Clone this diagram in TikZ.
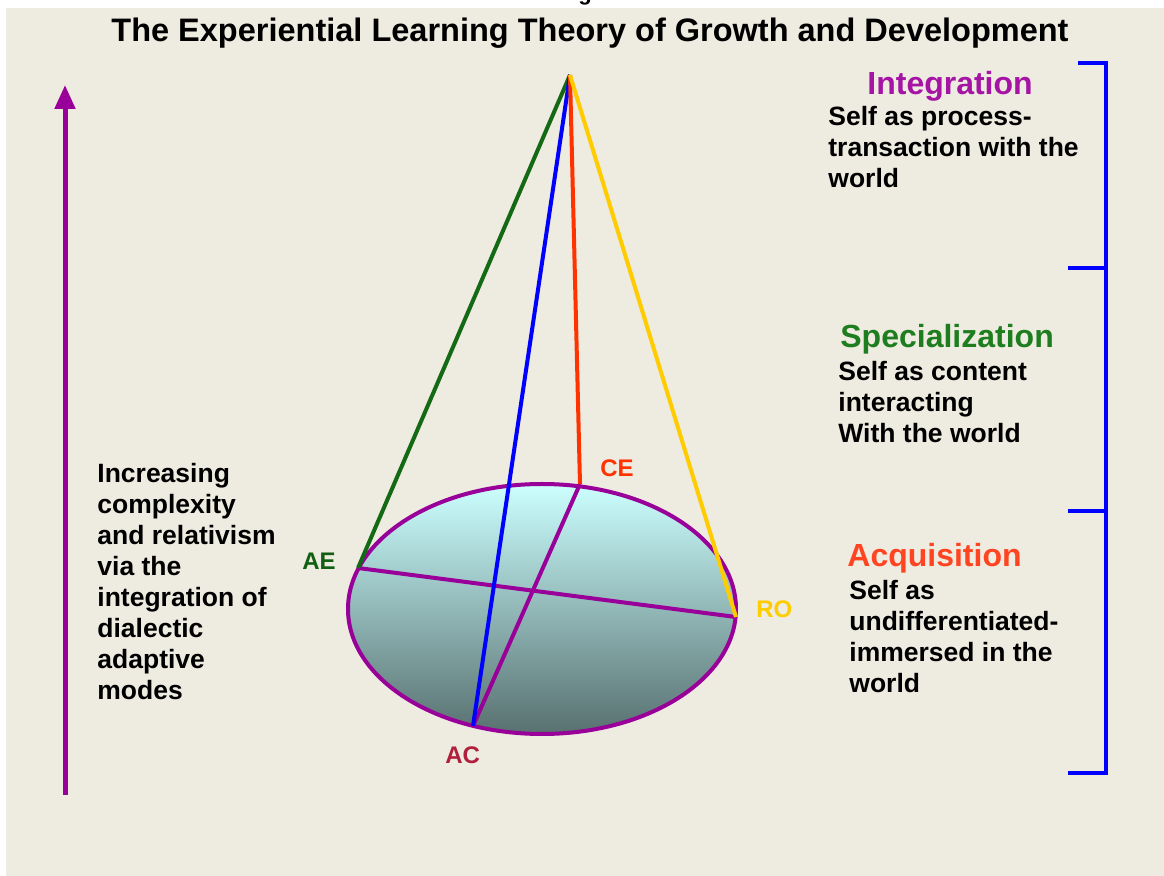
\documentclass[tikz,border=0pt]{standalone}
\usepackage{fontspec}
\setmainfont{Liberation Sans}
\usetikzlibrary{positioning,arrows.meta,shapes.geometric}

\definecolor{paper}{RGB}{238,235,224}
\definecolor{purp}{RGB}{153,0,153}
\definecolor{dgreen}{RGB}{20,105,20}
\definecolor{dred}{RGB}{255,51,0}
\definecolor{gold}{RGB}{255,204,0}
\definecolor{hpurp}{RGB}{165,20,165}
\definecolor{hgreen}{RGB}{30,125,30}
\definecolor{horange}{RGB}{255,68,34}
\definecolor{crimson}{RGB}{176,32,60}

\begin{document}
\begin{tikzpicture}[x=0.5pt, y=-0.5pt,
		line/.style={line width=2pt},
		disk/.style={ellipse, draw=purp, line width=2pt, inner sep=0pt,
			minimum width=194pt, minimum height=125pt,
			top color={rgb,255:red,204;green,255;blue,255},
			bottom color={rgb,255:red,88;green,112;blue,112}},
		txt/.style={anchor=base west, inner sep=0pt, align=left,
			font=\fontsize{13.25}{15.5}\selectfont\bfseries},
		head/.style={anchor=base west, inner sep=0pt,
			font=\fontsize{16}{19}\selectfont\bfseries},
		lbl/.style={anchor=base west, inner sep=0pt,
			font=\fontsize{12}{14}\selectfont\bfseries}]
	\useasboundingbox (0,0) rectangle (1164,876);
	\fill[paper] (6,8) rectangle (1164,876);
	\begin{scope}
		\clip (0,0) rectangle (1164,8);
		\node [anchor=base, inner sep=0pt, font=\rmfamily\bfseries\fontsize{11}{13}\selectfont] (cut) at (585,1) {g};
	\end{scope}

	% title
	\node [anchor=base, inner sep=0pt, font=\fontsize{16.25}{19}\selectfont\bfseries] (title) at (590,42)
		{The Experiential Learning Theory of Growth and Development};

	% cone
	\coordinate (apex) at (570,75);
	\coordinate (ae) at (358,568);
	\coordinate (ac) at (473,726);
	\coordinate (ce) at (580,484);
	\coordinate (ro) at (736,617);
	\node [disk] (base) at (542,609) {};
	\draw[line, purp] (ae) -- (ro);
	\draw[line, purp] (ce) -- (ac);
	\draw[line, dgreen] (apex) -- (ae);
	\draw[line, blue] (apex) -- (ac);
	\draw[line, dred] (apex) -- (ce);
	\draw[line, gold] (apex) -- (ro);

	\node [lbl, text=dgreen!90!black] (AE) at (302,570) {AE};
	\node [lbl, text=dred] (CE) at (600,477) {CE};
	\node [lbl, text=gold] (RO) at (756,618) {RO};
	\node [lbl, text=crimson] (AC) at (445,764) {AC};

	% growth arrow
	\coordinate (low) at (65,795);
	\coordinate (high) at (65,85);
	\draw[line width=2.5pt, purp, -{Triangle[width=10pt,length=12pt]}] (low) -- (high);
	\node [txt] (growth) at (97,700) {Increasing\\complexity\\and relativism\\via the\\integration of\\dialectic\\adaptive\\modes};

	% stages
	\coordinate (b1) at (1078,63);
	\coordinate (b2) at (1068,268);
	\coordinate (b3) at (1068,511);
	\coordinate (b4) at (1068,773);
	\draw[line, blue] (b1) -| (1106,773) -- (b4);
	\draw[line, blue] (b2) -- (1106,268);
	\draw[line, blue] (b3) -- (1106,511);

	\node [head, text=hpurp] (integ) at (867,95) {Integration};
	\node [txt] (integtxt) at (828,188) {Self as process-\\transaction with the\\world};
	\node [head, text=hgreen] (spec) at (840,348) {Specialization};
	\node [txt] (spectxt) at (838,443) {Self as content\\interacting\\With the world};
	\node [head, text=horange] (acq) at (847,567) {Acquisition};
	\node [txt] (acqtxt) at (849,693) {Self as\\undifferentiated-\\immersed in the\\world};
\end{tikzpicture}
\end{document}
